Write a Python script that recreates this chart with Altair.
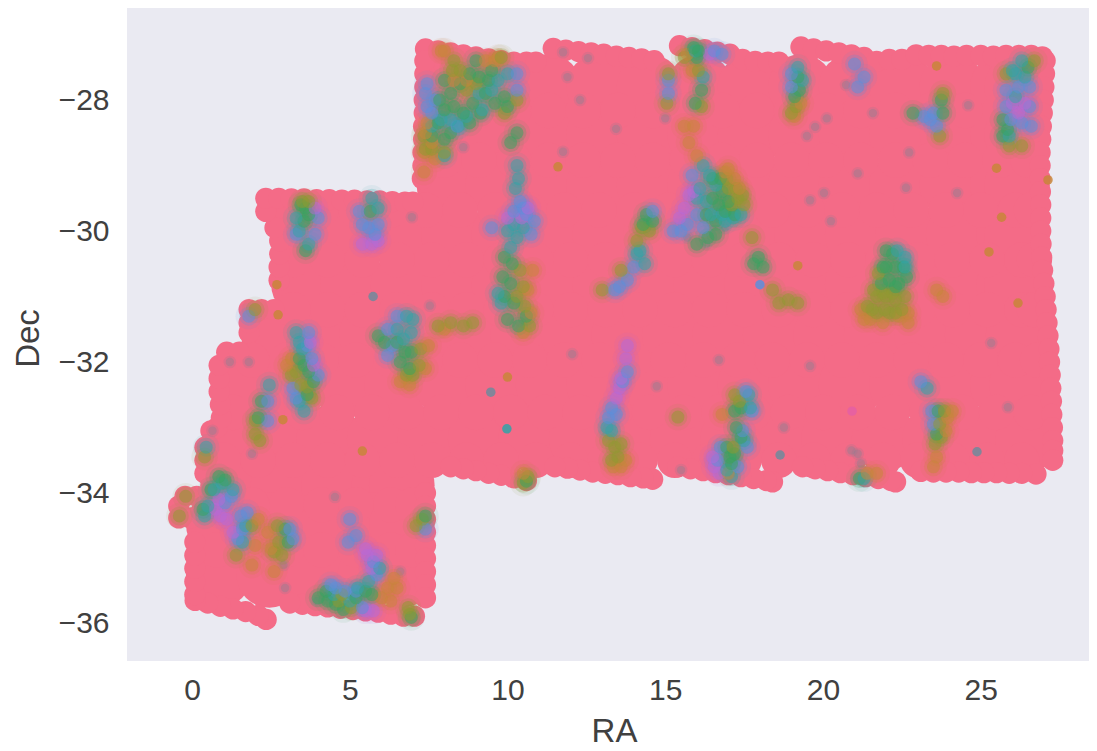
import altair as alt
import pandas as pd

# ---- footprint (majority class): (Dec, [RA...]) rows
PINK_CORE_ROWS = [
    (-27.80, [8.16, 9.7, 11.3, 12.9, 14.5, 16.1, 17.7, 19.3, 20.9, 22.5, 24.1, 25.7, 26.15]),
    (-28.53, [8.16, 9.7, 11.3, 12.9, 14.5, 16.1, 17.7, 19.3, 20.9, 22.5, 24.1, 25.7, 26.15]),
    (-29.30, [8.16, 9.7, 11.3, 12.9, 14.5, 16.1, 17.7, 19.3, 20.9, 22.5, 24.1, 25.7, 26.15]),
    (-30.06, [3.55, 5.1, 6.7, 8.3, 9.9, 11.5, 13.1, 14.7, 16.3, 17.9, 19.5, 21.1, 22.7, 24.3, 25.9, 26.15]),
    (-30.82, [3.55, 5.1, 6.7, 8.3, 9.9, 11.5, 13.1, 14.7, 16.3, 17.9, 19.5, 21.1, 22.7, 24.3, 25.9, 26.15]),
    (-31.59, [2.6, 4.1, 5.7, 7.3, 8.9, 10.5, 12.1, 13.7, 15.3, 16.9, 18.5, 20.1, 21.7, 23.3, 24.9, 26.2]),
    (-32.35, [1.7, 3.3, 4.9, 6.5, 8.1, 9.7, 11.3, 12.9, 14.5, 16.1, 17.7, 19.3, 20.9, 22.5, 24.1, 25.7, 26.3]),
    (-33.17, [1.5, 2.75, 4.35, 5.95, 7.55, 9.15, 10.75, 12.35, 13.95, 15.55, 17.15, 18.75, 20.35, 21.95, 23.55, 25.15, 26.5]),
    (-33.88, [1.3, 2.9, 4.5, 6.1, 6.65]),
    (-34.49, [0.85, 2.45, 4.05, 5.65, 6.65]),
    (-35.25, [0.85, 2.45, 4.05, 5.65, 6.65]),
]

PINK_FILL_ROWS = [
    (-28.16, [8.0, 9.1, 10.2, 11.3, 12.4, 13.5, 14.6, 15.7, 16.8, 17.9, 19.0, 20.1, 21.2, 22.3, 23.4, 24.5, 25.6, 26.5]),
    (-28.92, [8.0, 9.1, 10.2, 11.3, 12.4, 13.5, 14.6, 15.7, 16.8, 17.9, 19.0, 20.1, 21.2, 22.3, 23.4, 24.5, 25.6, 26.5]),
    (-29.68, [3.0, 4.1, 5.2, 6.3, 7.4, 8.5, 9.6, 10.7, 11.8, 12.9, 14.0, 15.1, 16.2, 17.3, 18.4, 19.5, 20.6, 21.7, 22.8, 23.9, 25.0, 26.1, 26.6]),
    (-30.44, [3.2, 4.3, 5.4, 6.5, 7.6, 8.7, 9.8, 10.9, 12.0, 13.1, 14.2, 15.3, 16.4, 17.5, 18.6, 19.7, 20.8, 21.9, 23.0, 24.1, 25.2, 26.3, 26.7]),
    (-31.20, [3.2, 4.3, 5.4, 6.5, 7.6, 8.7, 9.8, 10.9, 12.0, 13.1, 14.2, 15.3, 16.4, 17.5, 18.6, 19.7, 20.8, 21.9, 23.0, 24.1, 25.2, 26.3, 26.7]),
    (-31.97, [1.9, 3.0, 4.1, 5.2, 6.3, 7.4, 8.5, 9.6, 10.7, 11.8, 12.9, 14.0, 15.1, 16.2, 17.3, 18.4, 19.5, 20.6, 21.7, 22.8, 23.9, 25.0, 26.1, 26.8]),
    (-32.77, [1.3, 2.4, 3.5, 4.6, 5.7, 6.8, 7.9, 9.0, 10.1, 11.2, 12.3, 13.4, 14.5, 15.6, 16.7, 17.8, 18.9, 20.0, 21.1, 22.2, 23.3, 24.4, 25.5, 26.6]),
    (-33.50, [1.0, 2.1, 3.2, 4.3, 5.4, 6.5, 7.6, 8.7, 9.8, 10.9, 12.0, 13.1, 14.2, 15.3, 16.4, 17.5, 18.6, 19.7, 20.8, 21.9, 23.0, 24.1, 25.2, 26.3]),
    (-34.18, [0.8, 1.9, 3.0, 4.1, 5.2, 6.3, 7.0]),
    (-34.87, [0.8, 1.9, 3.0, 4.1, 5.2, 6.3, 7.0]),
]

PINK_EDGE = [
    # top edge
    (7.4,-27.22),(7.8,-27.25),(8.2,-27.28),(8.6,-27.31),(9.0,-27.34),(9.4,-27.37),(9.8,-27.40),(10.2,-27.42),(10.6,-27.42),(10.9,-27.42),
    (11.45,-27.21),(11.85,-27.24),(12.25,-27.26),(12.65,-27.28),(13.05,-27.30),(13.45,-27.33),(13.85,-27.35),(14.25,-27.37),(14.65,-27.40),
    (15.45,-27.17),(15.85,-27.20),(16.25,-27.23),(16.65,-27.27),(17.05,-27.30),(17.45,-27.38),(17.85,-27.41),(18.25,-27.42),(18.6,-27.42),
    (19.3,-27.19),(19.7,-27.22),(20.1,-27.25),(20.5,-27.28),(20.9,-27.31),(21.3,-27.35),(21.7,-27.41),(22.1,-27.38),(22.5,-27.38),
    (22.95,-27.31),(23.35,-27.32),(23.75,-27.32),(24.15,-27.33),(24.55,-27.32),(25.0,-27.32),(25.4,-27.33),(25.8,-27.32),(26.2,-27.32),(26.6,-27.32),(26.95,-27.34),
    # right edge
    (27.04,-27.4),(27.02,-27.6),(27.0,-27.8),(26.98,-28.0),(26.95,-28.2),(26.92,-28.4),(26.9,-28.6),(26.88,-28.8),(26.88,-29.0),(26.88,-29.2),
    (26.89,-29.4),(26.9,-29.6),(26.9,-29.8),(26.9,-30.0),(26.91,-30.2),(26.93,-30.4),(26.96,-30.6),(27.0,-30.8),(27.04,-31.0),(27.07,-31.2),
    (27.1,-31.4),(27.13,-31.6),(27.16,-31.8),(27.18,-32.0),(27.2,-32.2),(27.22,-32.4),(27.24,-32.6),(27.25,-32.8),(27.27,-33.0),(27.28,-33.2),(27.28,-33.35),(27.28,-33.5),
    # bottom edge, right to left
    (26.75,-33.71),(26.3,-33.7),(25.9,-33.7),(25.5,-33.69),(25.1,-33.69),(24.7,-33.69),(24.3,-33.68),(23.9,-33.68),(23.5,-33.68),(23.1,-33.67),
    (22.3,-33.83),(22.15,-33.81),(21.75,-33.78),(21.35,-33.75),(20.95,-33.72),(20.55,-33.69),(20.15,-33.66),(19.75,-33.63),(19.35,-33.6),
    (18.4,-33.83),(18.2,-33.81),(17.8,-33.78),(17.4,-33.75),(17.0,-33.72),(16.6,-33.69),(16.2,-33.66),(15.8,-33.63),(15.4,-33.6),
    (14.6,-33.79),(14.3,-33.77),(13.9,-33.75),(13.5,-33.72),(13.1,-33.7),(12.7,-33.68),(12.3,-33.65),(11.9,-33.62),(11.5,-33.6),
    (10.6,-33.81),(10.2,-33.77),(9.8,-33.73),(9.4,-33.7),(9.0,-33.66),(8.6,-33.63),(8.2,-33.6),
    # lower-left block, right side
    (7.4,-34.0),(7.4,-34.2),(7.4,-34.4),(7.4,-34.6),(7.4,-34.8),(7.4,-35.0),(7.4,-35.2),(7.4,-35.4),(7.4,-35.6),(7.05,-35.88),
    # lower-left block, bottom
    (6.7,-35.88),(6.3,-35.85),(5.9,-35.82),(5.5,-35.8),(5.1,-35.78),(4.7,-35.76),(4.3,-35.74),(3.9,-35.72),(3.5,-35.7),(3.1,-35.68),
    (2.35,-35.93),(2.1,-35.87),(1.7,-35.81),(1.3,-35.77),(0.9,-35.73),(0.5,-35.68),(0.1,-35.64),
    # left side, bottom to top
    (0.09,-35.55),(0.09,-35.35),(0.09,-35.15),(0.09,-34.95),(0.09,-34.75),
    (-0.05,-34.38),(-0.42,-34.38),(-0.42,-34.2),(-0.22,-34.05),(0.15,-34.05),
    (0.41,-33.7),(0.41,-33.5),(0.41,-33.3),(0.6,-33.05),(0.8,-33.0),(0.93,-32.85),(0.9,-32.65),(0.86,-32.45),(0.86,-32.25),(0.86,-32.05),
    (1.1,-31.85),(1.5,-31.85),(1.81,-31.55),(1.81,-31.4),(1.81,-31.2),(2.2,-31.2),(2.6,-31.2),
    (2.76,-30.75),(2.76,-30.55),(2.78,-30.35),(2.78,-30.15),(2.63,-29.95),(2.34,-29.7),(2.34,-29.5),
    # upper-left block top
    (2.75,-29.5),(3.15,-29.51),(3.55,-29.51),(3.95,-29.52),(4.35,-29.52),(4.75,-29.53),(5.15,-29.53),(5.55,-29.54),(5.95,-29.54),(6.35,-29.55),(6.75,-29.56),(7.0,-29.56),
    # upper block left side
    (7.3,-29.2),(7.32,-29.0),(7.32,-28.8),(7.34,-28.6),(7.34,-28.4),(7.36,-28.2),(7.36,-28.0),(7.38,-27.8),(7.38,-27.6),(7.38,-27.4),
]

# ---- the other classes, grouped by hue
GREEN = [(8.0,-27.7),(8.2,-27.9),(8.5,-27.75),(8.0,-28.15),(8.3,-28.1),(8.6,-28.2),(7.8,-28.35),(8.2,-28.5),(8.0,-28.6),(9.3,-27.9),(9.6,-28.05),(9.9,-27.95),(10.0,-28.1),(8.8,-27.6),(9.5,-27.55),(7.85,-28.0),(9.15,-28.2),
    (8.9,-28.05),(9.1,-27.65),(9.4,-27.7),(9.0,-27.4),(8.8,-28.35),(7.6,-28.55),
    (3.6,-29.65),(3.55,-29.85),(3.7,-29.75),(3.6,-30.3),(3.45,-29.6),(5.65,-29.7),
    (9.9,-30.4),(10.15,-30.5),(9.85,-30.7),(10.1,-30.8),(9.9,-31.0),(10.2,-31.1),(10.0,-31.35),(10.35,-31.45),(10.6,-31.3),(10.1,-28.65),(10.3,-28.5),
    (16.5,-29.2),(16.5,-29.5),(16.8,-29.4),(16.7,-29.6),(16.3,-29.75),(17.0,-29.55),(16.75,-29.2),(16.35,-30.1),(16.9,-29.7),(16.6,-29.85),(17.2,-29.75),(16.0,-30.2),(16.6,-30.05),
    (15.9,-27.2),(16.05,-27.25),(16.0,-27.35),(16.15,-27.85),(15.95,-28.05),
    (14.4,-29.75),(14.6,-29.85),(14.3,-29.9),(19.2,-27.65),(19.25,-27.85),(19.1,-27.95),(23.75,-28.0),(23.8,-28.2),(22.85,-28.2),
    (26.5,-27.5),(25.7,-28.3),(25.85,-28.45),(25.7,-28.55),
    (22.0,-30.3),(22.2,-30.35),(22.3,-30.55),(22.0,-30.55),(22.1,-30.75),(22.4,-30.8),(22.65,-30.7),(21.85,-30.8),(21.9,-30.55),(22.55,-30.55),(22.3,-30.85),
    (17.8,-30.5),(18.1,-30.55),(17.95,-30.4),
    (6.75,-31.85),(6.95,-31.85),(6.6,-32.0),(6.9,-32.1),(6.5,-31.7),(5.9,-31.6),(6.1,-31.7),
    (3.4,-31.95),(3.55,-32.05),(3.7,-32.15),(3.85,-32.3),(3.65,-32.5),(2.2,-32.6),(2.1,-32.85),
    (0.85,-33.75),(1.05,-33.8),(0.6,-33.95),(0.35,-34.25),(2.95,-34.55),(3.05,-34.75),
    (4.25,-35.5),(4.3,-35.65),(4.8,-35.78),(5.2,-35.6),(5.5,-35.5),(5.7,-35.55),(6.95,-35.9),(4.55,-35.7),(7.4,-34.35),(10.6,-33.82),(4.0,-35.6),
    (17.2,-32.75),(17.4,-32.7),(17.25,-33.0),(17.4,-33.15),(17.05,-33.45),(17.2,-33.4),(16.95,-33.3),(17.1,-33.55),
    (23.65,-32.75),(23.6,-33.1),(21.15,-33.78)]
TEAL = [(7.9,-28.3),(8.2,-28.3),(8.45,-28.4),(8.7,-28.25),(7.6,-28.4),(9.7,-27.7),(10.0,-27.6),(9.1,-27.9),(9.2,-28.15),(9.5,-27.85),(8.0,-28.85),
    (3.3,-29.8),(3.7,-30.2),(3.4,-30.0),(5.7,-29.5),(5.9,-29.65),
    (10.3,-29.0),(10.35,-29.2),(10.25,-29.35),(10.2,-29.9),(10.0,-30.0),(10.3,-30.1),(10.5,-29.95),(10.1,-30.25),(9.7,-30.95),(9.8,-31.1),
    (16.2,-29.0),(16.4,-29.15),(16.1,-29.35),(16.3,-29.55),(16.0,-29.5),(16.8,-29.75),(17.15,-29.8),(17.4,-29.75),(15.95,-27.25),(16.2,-27.65),(16.6,-29.3),(16.45,-29.75),(16.9,-29.85),
    (14.2,-30.3),(14.35,-30.5),(14.1,-30.35),(19.2,-27.5),(19.35,-27.7),
    (26.3,-27.4),(26.1,-27.6),(26.4,-27.65),(26.0,-27.55),(25.9,-28.55),(26.1,-27.95),(22.35,-30.3),(22.6,-30.4),(22.6,-30.55),
    (6.8,-31.3),(6.95,-31.55),(6.7,-31.65),(6.5,-31.5),(7.0,-31.35),
    (3.3,-31.55),(3.4,-31.7),(3.5,-31.8),(3.4,-32.6),(3.55,-32.75),(2.45,-32.35),
    (0.95,-33.85),(0.7,-33.95),(1.3,-33.95),(0.4,-34.35),(0.5,-34.2),(1.7,-34.5),(1.6,-34.75),(0.45,-33.3),
    (5.95,-35.15),(4.5,-35.55),(5.25,-35.45),(5.0,-35.65),(5.6,-35.35),(13.15,-33.0),(13.3,-33.05),
    (17.65,-32.5),(17.7,-32.7),(17.5,-33.2),(17.1,-33.75),(16.95,-33.65),(23.3,-32.4),(21.3,-33.78)]
BLUE = [(7.4,-27.9),(7.45,-28.1),(7.6,-28.2),(7.45,-27.75),(7.7,-28.0),(10.3,-27.6),(10.3,-27.85),(8.4,-28.4),
    (4.0,-29.8),(3.3,-30.05),(3.9,-30.05),(5.3,-29.7),(5.6,-29.95),(5.9,-29.9),(5.4,-29.9),(5.8,-30.05),
    (10.4,-29.55),(10.2,-29.7),(10.6,-29.75),(10.85,-29.85),(10.5,-29.65),(9.5,-29.95),(10.75,-30.05),
    (15.85,-29.15),(16.0,-29.75),(15.5,-30.0),(15.25,-30.0),(15.7,-29.9),(16.2,-29.95),(16.55,-27.25),(16.8,-27.3),(15.1,-27.7),(15.1,-27.9),
    (14.0,-30.55),(13.55,-30.85),(13.8,-30.75),(13.4,-30.9),(14.6,-29.7),(19.0,-27.6),(19.0,-27.8),
    (21.3,-27.65),(21.1,-27.8),(21.0,-27.45),(23.2,-28.25),(23.4,-28.3),(23.5,-28.2),(23.6,-28.4),
    (26.2,-27.8),(26.55,-27.8),(25.8,-27.85),(26.3,-28.35),(25.95,-28.3),(25.8,-28.1),(26.55,-28.1),(26.6,-28.4),
    (6.2,-31.5),(6.35,-31.75),(6.5,-31.3),(6.2,-31.9),(3.65,-31.75),(3.8,-31.95),(4.0,-32.2),(3.2,-32.4),(3.3,-32.55),(3.7,-31.55),(2.4,-32.6),(2.4,-32.9),
    (1.05,-34.15),(1.25,-34.05),(1.6,-34.55),(1.45,-34.7),(1.55,-34.35),(1.75,-34.3),(3.1,-34.55),(3.2,-34.7),(1.8,-31.3),
    (5.0,-34.4),(5.2,-34.65),(4.95,-34.75),(5.75,-35.05),(5.85,-35.25),(5.2,-35.5),(4.85,-35.5),(4.55,-35.45),(4.4,-35.4),(5.4,-35.75),(7.4,-34.55),
    (13.8,-32.15),(13.65,-32.3),(13.3,-32.7),(13.2,-32.85),(13.45,-32.8),
    (17.55,-32.45),(17.75,-32.75),(17.6,-33.3),(17.45,-33.05),(16.75,-33.3),(16.65,-33.5),(17.3,-33.6),(23.1,-32.3),(23.45,-32.75),(23.5,-32.95)]
PURPLE = [(3.9,-29.65),(5.4,-30.2),(5.7,-30.2),(5.9,-30.15),(10.65,-29.65),(10.45,-29.8),(10.0,-29.8),
    (15.9,-29.4),(15.6,-29.65),(15.45,-29.8),(15.75,-29.45),(16.4,-27.3),(26.0,-28.05),(26.4,-28.05),(26.2,-28.2),
    (3.75,-31.7),(3.85,-32.05),(0.75,-34.25),(0.85,-34.1),(0.9,-34.35),(1.1,-34.4),(1.3,-34.6),
    (5.5,-34.85),(5.85,-34.95),(5.7,-35.15),(5.55,-34.95),(5.5,-35.8),(5.75,-35.8),
    (13.8,-31.75),(13.75,-31.95),(13.55,-32.4),(13.45,-32.55),(13.6,-32.25),(16.55,-33.6),(16.7,-33.7),(16.5,-33.45)]
OLIVE = [(8.5,-27.55),(8.7,-27.85),(8.25,-27.55),(7.35,-28.55),(7.4,-28.75),(8.0,-28.8),(10.3,-28.0),(9.8,-27.35),(3.7,-29.55),(3.5,-29.55),(9.0,-27.75),(9.9,-28.2),(8.3,-27.4),(7.6,-28.75),
    (10.4,-30.6),(10.5,-30.85),(10.3,-31.0),(10.55,-31.15),(10.7,-31.45),
    (17.0,-29.35),(17.3,-29.5),(17.1,-29.6),(17.5,-29.6),(16.95,-29.2),(17.25,-29.35),(17.45,-29.45),(16.05,-27.55),(16.15,-28.1),(15.1,-27.6),(15.05,-28.05),(15.6,-27.35),
    (14.25,-29.95),(14.5,-30.0),(14.1,-30.15),(13.6,-30.6),(13.0,-30.9),(19.15,-28.1),(19.0,-28.2),(23.8,-27.9),(23.7,-28.55),(26.7,-27.4),(25.8,-27.6),(25.9,-28.7),(26.3,-28.7),
    (21.75,-30.65),(21.7,-31.0),(22.0,-31.0),(22.3,-31.05),(22.6,-31.0),(21.4,-31.15),(21.7,-31.25),(22.1,-31.25),(21.9,-30.95),(22.2,-30.95),(22.5,-31.2),(21.6,-30.9),(21.55,-31.2),(21.95,-31.2),(22.3,-31.25),
    (18.4,-30.9),(18.6,-31.1),(19.2,-31.1),(18.9,-31.05),(17.75,-30.1),
    (7.25,-31.8),(7.2,-32.05),(6.8,-32.2),(7.0,-32.2),(8.2,-31.4),(8.6,-31.45),(8.9,-31.4),(7.8,-31.45),
    (3.15,-32.2),(3.3,-32.15),(3.45,-32.35),(3.65,-32.38),(3.8,-32.55),(2.0,-32.9),(2.15,-33.2),(2.0,-33.1),
    (1.9,-34.5),(1.4,-34.95),(2.7,-34.5),(2.75,-34.75),(2.85,-34.95),(2.6,-34.9),(-0.2,-34.05),(-0.4,-34.35),(0.4,-33.45),(2.0,-31.2),
    (4.65,-35.65),(4.75,-35.55),(5.05,-35.75),(6.85,-35.75),(6.9,-35.85),(7.3,-34.4),(7.1,-34.5),(10.65,-33.75),(10.5,-33.85),
    (13.2,-33.2),(13.4,-33.3),(13.5,-33.45),(13.3,-33.5),(13.6,-33.25),(15.4,-32.84),
    (17.35,-32.6),(17.2,-32.5),(17.15,-33.3),(23.7,-32.95),(23.75,-33.15),(23.85,-32.75),(23.55,-33.25)]
ORANGE = [(8.7,-27.7),(7.35,-28.8),(7.4,-28.5),(7.7,-28.9),(7.9,-27.25),(8.0,-27.25),(9.7,-27.35),(9.3,-27.4),(7.35,-29.1),(7.6,-28.65),(7.45,-28.35),(9.6,-27.4),(8.3,-27.7),
    (10.65,-30.9),(10.75,-31.25),(10.5,-31.55),(10.8,-30.6),(17.0,-29.05),(17.2,-29.2),(17.35,-29.35),(16.9,-29.1),
    (15.7,-27.3),(15.85,-27.55),(15.6,-28.4),(15.9,-28.4),(15.75,-28.65),(16.0,-28.85),(19.1,-28.25),(19.3,-28.05),
    (21.2,-31.2),(21.5,-31.35),(21.9,-31.4),(22.4,-31.3),(22.7,-31.25),(23.8,-31.0),(23.6,-30.9),(21.3,-31.35),(22.7,-31.4),
    (6.6,-32.3),(6.9,-32.35),(7.4,-32.1),(7.5,-31.75),(8.0,-31.5),(3.0,-32.05),(3.15,-31.95),
    (2.0,-34.8),(2.1,-34.4),(1.9,-35.1),(2.4,-34.6),(2.5,-34.85),(2.6,-35.2),(6.2,-35.45),(6.4,-35.3),(6.0,-35.6),(6.3,-35.65),(6.5,-35.45),(10.5,-33.7),
    (13.35,-33.6),(13.6,-33.6),(13.75,-33.5),(16.8,-32.8),(17.0,-33.7),
    (23.95,-32.85),(24.1,-32.75),(23.9,-33.05),(23.5,-33.6),(23.6,-33.45),(21.7,-33.7),(21.4,-33.7)]
MUTED = [(6.97,-29.79),(8.6,-28.72),(11.76,-28.79),(11.76,-27.27),(12.55,-27.36),(11.9,-27.65),(12.3,-28.0),(7.54,-31.14),(12.05,-31.88),
    (13.44,-28.44),(15.0,-28.28),(24.6,-28.08),(20.73,-27.77),(21.58,-28.2),(22.73,-28.8),(21.1,-29.12),(24.25,-29.42),(20.03,-29.42),(19.59,-29.53),(22.63,-29.34),
    (20.25,-29.85),(19.49,-28.55),(19.75,-28.41),(20.12,-28.28),(14.73,-32.37),(18.76,-33.0),(25.33,-31.71),(19.59,-32.06),(25.86,-32.69),
    (4.53,-34.06),(1.2,-32.0),(1.8,-32.0),(2.9,-35.1),(2.95,-35.45),(3.95,-35.65),(6.6,-35.2),(21.1,-33.4),(21.2,-33.55),(20.9,-33.35),(16.7,-31.97),(15.5,-33.65),(1.9,-33.4),(0.65,-33.05),
    (15.7,-30.1),(16.3,-30.2),(16.9,-29.95)]
# single dots that stand out clearly
DOT_TEAL = [(9.98,-33.02)]
DOT_SLATE = [(9.47,-32.46),(18.64,-33.42),(24.88,-33.37),(5.74,-31.0)]
DOT_ORANGE = [(10.0,-32.23),(11.6,-29.02),(2.69,-30.82),(2.73,-31.28),(5.4,-33.36),(2.88,-32.88),(25.5,-29.04),(19.2,-30.53),(25.66,-29.79),(25.26,-30.32),(27.13,-29.22),(26.18,-31.1),(23.6,-27.48)]
DOT_BLUE = [(18.0,-30.82)]
DOT_MAGENTA = [(20.92,-32.75)]

X_TICKS = [0, 5, 10, 15, 20, 25]
Y_TICKS = [-36, -34, -32, -30, -28]
X_RANGE = [-2.06, 28.43]
Y_RANGE = [-36.565, -26.595]

KINDS = ["pink", "green", "teal", "blue", "purple", "olive", "orange", "muted", "slate", "magenta"]
HUES = ["#f46b87", "#35a35f", "#2fa3a8", "#5a8fdc", "#b56ad8", "#8f9a30", "#c8853a", "#8d7f92", "#6f8a9c", "#e45fa5"]


def frame(pairs, kind):
    return pd.DataFrame({"ra": [p[0] for p in pairs], "dec": [p[1] for p in pairs], "kind": kind})


core = pd.concat([frame([(r, d) for r in ras], "pink") for d, ras in PINK_CORE_ROWS])
fill = pd.concat([frame([(r, d) for r in ras], "pink") for d, ras in PINK_FILL_ROWS])
edge = frame(PINK_EDGE, "pink")
clumps = pd.concat([frame(GREEN, "green"), frame(TEAL, "teal"), frame(BLUE, "blue"),
                    frame(PURPLE, "purple"), frame(OLIVE, "olive"), frame(ORANGE, "orange")])
clumps = clumps.sort_values(["dec", "ra"])
muted = frame(MUTED, "muted")
dots = pd.concat([frame(DOT_TEAL, "teal"), frame(DOT_SLATE, "slate"), frame(DOT_ORANGE, "orange"),
                  frame(DOT_BLUE, "blue"), frame(DOT_MAGENTA, "magenta")])

x = alt.X("ra:Q", scale=alt.Scale(domain=X_RANGE, nice=False, zero=False),
          axis=alt.Axis(title="RA", values=X_TICKS, grid=False, domain=False, ticks=False,
                        labelFontSize=30, titleFontSize=33, labelPadding=14, titlePadding=10, titleX=487,
                        labelColor="#404040", titleColor="#404040", titleFontWeight="normal",
                        labelFont="Liberation Sans", titleFont="Liberation Sans"))
y = alt.Y("dec:Q", scale=alt.Scale(domain=Y_RANGE, nice=False, zero=False),
          axis=alt.Axis(title="Dec", values=Y_TICKS, grid=False, domain=False, ticks=False,
                        labelFontSize=30, titleFontSize=33, labelPadding=18, titlePadding=13, titleY=330,
                        labelColor="#404040", titleColor="#404040", titleFontWeight="normal",
                        labelFont="Liberation Sans", titleFont="Liberation Sans"))
color = alt.Color("kind:N", scale=alt.Scale(domain=KINDS, range=HUES), legend=None)


def layer(df, size, opacity):
    return alt.Chart(df).mark_circle(size=size, opacity=opacity, clip=True).encode(x=x, y=y, color=color)


chart = alt.layer(
    layer(core, 4300, 1),
    layer(fill, 1257, 1),
    layer(edge, 452, 1),
    layer(muted, 160, 0.2),
    layer(muted, 70, 0.4),
    # each clump point drawn as a soft disc
    layer(clumps, 700, 0.08),
    layer(clumps, 360, 0.22),
    layer(clumps, 170, 0.5),
    layer(dots, 90, 0.85),
).properties(
    width=962,
    height=653,
    autosize=alt.AutoSizeParams(type="none"),
    padding={"left": 119, "top": 0, "right": 0, "bottom": 88},
    background="white",
).configure_view(fill="#eaeaf2", stroke=None)

chart.save("out.html", embed_options={"renderer": "svg", "actions": False})
